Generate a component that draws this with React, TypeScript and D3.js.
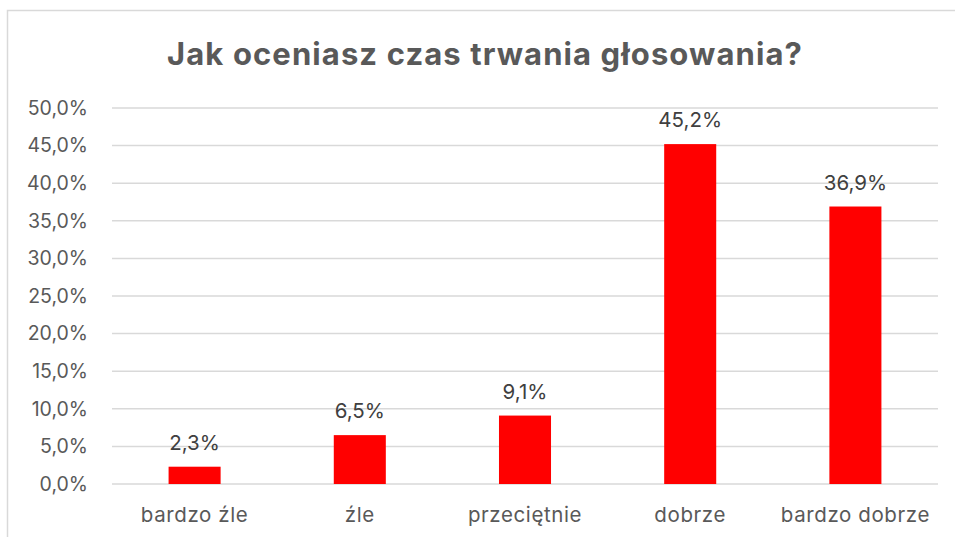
import React, { useRef, useEffect } from "react";
import * as d3 from "d3";

const categories = ["bardzo źle", "źle", "przeciętnie", "dobrze", "bardzo dobrze"];
const values = [2.3, 6.5, 9.1, 45.2, 36.9];
const yTicks = [0, 5, 10, 15, 20, 25, 30, 35, 40, 45, 50];
const title = "Jak oceniasz czas trwania głosowania?";

const W = 955;
const H = 537;
const FONT = "Inter, 'Open Sans', sans-serif";

function fmt(v: number) {
  return v.toFixed(1).replace(".", ",") + "%";
}

export default function App() {
  const svgRef = useRef<SVGSVGElement>(null);

  useEffect(() => {
    const svg = d3.select(svgRef.current);
    svg.selectAll("*").remove();

    const margin = { left: 112, right: 17, top: 108, bottom: 53 };

    const x = d3
      .scaleBand()
      .domain(categories)
      .range([margin.left, W - margin.right])
      .paddingInner(0.685)
      .paddingOuter(0.3425);

    const y = d3.scaleLinear().domain([0, 50]).range([H - margin.bottom, margin.top]);

    // chart border
    svg
      .append("rect")
      .attr("x", 7.5)
      .attr("y", 10.5)
      .attr("width", 960)
      .attr("height", 540)
      .attr("fill", "#fff")
      .attr("stroke", "#d9d9d9")
      .attr("stroke-width", 1.5);

    svg
      .append("text")
      .attr("x", 485)
      .attr("y", 65)
      .attr("text-anchor", "middle")
      .attr("font-family", FONT)
      .attr("font-size", 31)
      .attr("font-weight", 700)
      .attr("letter-spacing", 1.1)
      .attr("fill", "#595959")
      .text(title);

    svg
      .append("g")
      .selectAll("line")
      .data(yTicks)
      .join("line")
      .attr("x1", margin.left)
      .attr("x2", W - margin.right)
      .attr("y1", (d) => y(d))
      .attr("y2", (d) => y(d))
      .attr("stroke", "#d9d9d9")
      .attr("stroke-width", 1.5);

    svg
      .append("g")
      .selectAll("text")
      .data(yTicks)
      .join("text")
      .attr("x", 88)
      .attr("y", (d) => y(d))
      .attr("dy", "0.35em")
      .attr("text-anchor", "end")
      .attr("font-family", FONT)
      .attr("font-size", 19.5)
      .attr("fill", "#595959")
      .text((d) => fmt(d));

    svg
      .append("g")
      .selectAll("rect")
      .data(values)
      .join("rect")
      .attr("x", (_, i) => x(categories[i])!)
      .attr("width", x.bandwidth())
      .attr("y", (d) => y(d))
      .attr("height", (d) => y(0) - y(d))
      .attr("fill", "#ff0000");

    svg
      .append("g")
      .selectAll("text")
      .data(values)
      .join("text")
      .attr("x", (_, i) => x(categories[i])! + x.bandwidth() / 2)
      .attr("y", (d) => y(d) - 17)
      .attr("text-anchor", "middle")
      .attr("font-family", FONT)
      .attr("font-size", 20.5)
      .attr("fill", "#404040")
      .text((d) => fmt(d));

    svg
      .append("g")
      .selectAll("text")
      .data(categories)
      .join("text")
      .attr("x", (d) => x(d)! + x.bandwidth() / 2)
      .attr("y", 522)
      .attr("text-anchor", "middle")
      .attr("font-family", FONT)
      .attr("font-size", 20.5)
      .attr("letter-spacing", 0.6)
      .attr("fill", "#595959")
      .text((d) => d);
  }, []);

  return (
    <svg
      ref={svgRef}
      width={W}
      height={H}
      style={{ position: "absolute", left: 0, top: 0, background: "#fff" }}
    />
  );
}
